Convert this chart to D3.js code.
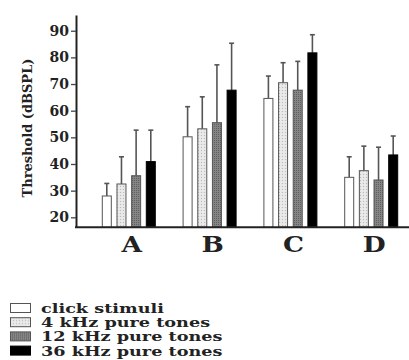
<!DOCTYPE html>
<html>
<head>
<meta charset="utf-8">
<script src="https://cdn.jsdelivr.net/npm/d3@7"></script>
<style>
  body { margin: 0; background: #fff; }
  svg { display: block; }
  text { font-family: 'DejaVu Serif', serif; font-weight: bold; fill: #222; }
</style>
</head>
<body>
<svg width="409" height="360"></svg>
<script>
const groups = ['A', 'B', 'C', 'D']
const series = ['click stimuli', '4 kHz pure tones', '12 kHz pure tones', '36 kHz pure tones']
// mean thresholds per group, one array per stimulus
const click = [28.0, 50.2, 64.6, 35.0]
const khz4 = [32.5, 53.2, 70.5, 37.5]
const khz12 = [35.6, 55.5, 67.7, 34.0]
const khz36 = [40.9, 67.7, 81.7, 43.4]
// top of the error bar (mean + sd)
const clickErr = [32.7, 61.5, 73.0, 42.7]
const khz4Err = [42.7, 65.2, 78.0, 46.7]
const khz12Err = [52.7, 77.2, 78.5, 46.3]
const khz36Err = [52.7, 85.3, 88.5, 50.5]
const yTicks = [20, 30, 40, 50, 60, 70, 80, 90]

const means = [click, khz4, khz12, khz36]
const errs = [clickErr, khz4Err, khz12Err, khz36Err]
const fills = ['#fff', 'url(#lightDots)', 'url(#darkDots)', '#000']

const svg = d3.select('svg')

// stipple patterns for the two grey bars
const defs = svg.append('defs')
const light = defs.append('pattern').attr('id', 'lightDots')
  .attr('width', 3).attr('height', 3).attr('patternUnits', 'userSpaceOnUse')
light.append('rect').attr('width', 3).attr('height', 3).attr('fill', '#e6e6e6')
light.append('rect').attr('width', 1).attr('height', 1).attr('fill', '#bcbcbc')
light.append('rect').attr('x', 1.5).attr('y', 1.5).attr('width', 1).attr('height', 1).attr('fill', '#f6f6f6')
const dark = defs.append('pattern').attr('id', 'darkDots')
  .attr('width', 2).attr('height', 2).attr('patternUnits', 'userSpaceOnUse')
dark.append('rect').attr('width', 2).attr('height', 2).attr('fill', '#858585')
dark.append('rect').attr('width', 1).attr('height', 1).attr('fill', '#5e5e5e')

const y = d3.scaleLinear().domain([16.25, 95.9]).range([227.3, 15])
const x = d3.scaleBand().domain(groups).range([88.4, 411.6])
const xi = d3.scaleBand().domain(d3.range(4)).range([-26.5, 26.5]).paddingInner(0.386)

// bars
const barData = []
groups.forEach((g, gi) => {
  means.forEach((m, si) => {
    barData.push({ g, si, v: m[gi], e: errs[si][gi] })
  })
})

const bx = d => x(d.g) + x.bandwidth() / 2 + xi(d.si)

// error bars first, bars drawn over them
const eb = svg.append('g').attr('stroke', '#555').attr('stroke-width', 1.6)
eb.selectAll('line.v').data(barData).join('line')
  .attr('class', 'v')
  .attr('x1', d => bx(d) + xi.bandwidth() / 2)
  .attr('x2', d => bx(d) + xi.bandwidth() / 2)
  .attr('y1', d => y(d.v))
  .attr('y2', d => y(d.e))
eb.selectAll('line.c').data(barData).join('line')
  .attr('class', 'c')
  .attr('x1', d => bx(d) + xi.bandwidth() / 2 - 2.5)
  .attr('x2', d => bx(d) + xi.bandwidth() / 2 + 2.5)
  .attr('y1', d => y(d.e))
  .attr('y2', d => y(d.e))

svg.append('g').selectAll('rect').data(barData).join('rect')
  .attr('x', d => bx(d))
  .attr('y', d => y(d.v))
  .attr('width', xi.bandwidth())
  .attr('height', d => y(16.25) - y(d.v))
  .attr('fill', d => fills[d.si])
  .attr('stroke', d => d.si === 3 ? '#000' : '#555')
  .attr('stroke-width', 1)

// y axis
const yAxis = svg.append('g')
  .attr('transform', 'translate(76,0)')
  .call(d3.axisLeft(y).tickValues(yTicks).tickSize(5).tickPadding(2).tickSizeOuter(0))
yAxis.select('.domain').attr('stroke', '#222').attr('stroke-width', 2)
yAxis.selectAll('.tick line').attr('stroke', '#444').attr('stroke-width', 1.3)
yAxis.selectAll('.tick text')
  .attr('font-size', 14).attr('font-family', 'DejaVu Serif').attr('font-weight', 'bold').attr('fill', '#222')

// x axis, the serif capitals in the source are wide so stretch them a bit
const xAxis = svg.append('g')
  .attr('transform', `translate(0,${y(16.25)})`)
  .call(d3.axisBottom(x).tickSize(0).tickPadding(9))
xAxis.select('.domain').attr('d', 'M75,0H409').attr('stroke', '#222').attr('stroke-width', 2)
xAxis.selectAll('.tick text')
  .attr('font-size', 22).attr('font-family', 'DejaVu Serif').attr('font-weight', 'bold').attr('fill', '#111')
  .attr('transform', 'translate(3,0) scale(1.2,1)')

// y title
svg.append('text')
  .attr('transform', `translate(32,${(y(20) + y(90)) / 2 + 4}) rotate(-90)`)
  .attr('text-anchor', 'middle')
  .attr('font-size', 13)
  .text('Threshold (dBSPL)')

// legend, rows are packed tight like the original
const legend = svg.append('g').attr('transform', 'translate(10,303)')
const row = legend.selectAll('g').data(series).join('g')
  .attr('transform', (d, i) => `translate(0,${i * 14.2})`)
row.append('rect')
  .attr('x', 0.5).attr('y', 0.5)
  .attr('width', 20).attr('height', 9)
  .attr('fill', (d, i) => fills[i])
  .attr('stroke', (d, i) => i === 3 ? '#000' : '#555')
row.append('text')
  .attr('transform', 'translate(31,10) scale(1.47,1)')
  .attr('font-size', 12)
  .text(d => d)
</script>
</body>
</html>
